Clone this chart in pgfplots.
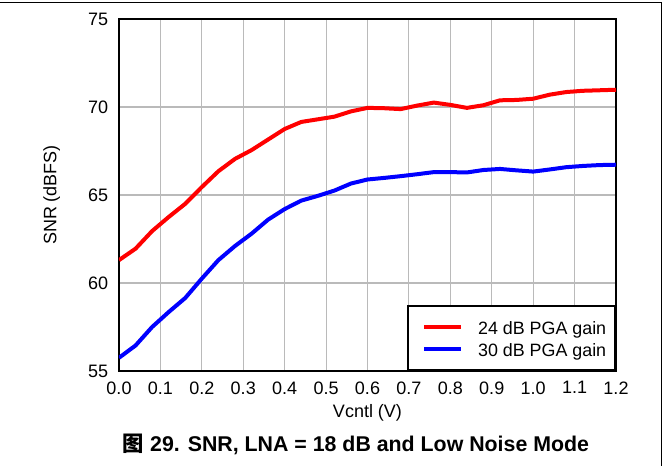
\documentclass[border=0pt]{standalone}
\usepackage{fontspec}
\setmainfont{Liberation Sans}
\newfontfamily\cjk{Noto Sans CJK SC}
\usepackage{pgfplots}
\pgfplotsset{compat=1.18}
\begin{document}
\begin{tikzpicture}
\begin{axis}[
  at={(89.25pt,71.25pt)}, anchor=south west,
  scale only axis, width=372.75pt, height=264pt,
  xmin=0, xmax=1.2, ymin=55, ymax=75,
  xtick={0,0.1,0.2,0.3,0.4,0.5,0.6,0.7,0.8,0.9,1.0,1.1,1.2},
  xticklabels={0.0,0.1,0.2,0.3,0.4,0.5,0.6,0.7,0.8,0.9,1.0,1.1,1.2},
  ytick={55,60,65,70,75},
  yticklabels={55,60,65,70,75},
  major tick length=0pt,
  grid=major,
  major grid style={line width=0.8pt, color=black!27},
  axis line style={black, line width=2pt},
  /pgf/number format/assume math mode=true,
  ticklabel style={font=\fontsize{13.5}{16}\selectfont},
  xticklabel style={inner sep=0pt, anchor=north, yshift=-7.7pt},
  yticklabel style={inner sep=0pt, anchor=east, xshift=-8pt},
  xlabel={Vcntl (V)},
  ylabel={SNR (dBFS)},
  label style={font=\fontsize{13.5}{16}\selectfont},
  xlabel style={at={(axis description cs:0.5,-0.1335)}, anchor=base, inner sep=0pt},
  ylabel style={at={(axis description cs:-0.1258,0.5)}, anchor=base, inner sep=0pt},
  legend cell align=left,
  legend style={at={(1,0)}, anchor=south east, draw=black, line width=1.5pt, fill=white,
    inner xsep=6.6pt, inner ysep=8.8pt, row sep=3.1pt,
    font=\fontsize{13.4}{16}\selectfont,
    nodes={inner sep=0pt, text height=12.4pt, text depth=1.3pt},
    /tikz/every odd column/.style={column sep=11pt}},
  legend image code/.code={\path (0pt,0pt); \draw[#1, line width=3pt] (4pt,0pt) -- (31.75pt,0pt);},
]
\addplot[red, line width=3pt, line join=round] coordinates {
(0,61.3) (0.04,61.95) (0.08,62.95) (0.12,63.75) (0.16,64.5) (0.20,65.45)
(0.24,66.35) (0.28,67.05) (0.32,67.55) (0.36,68.15) (0.40,68.75) (0.44,69.15)
(0.48,69.3) (0.52,69.45) (0.56,69.75) (0.60,69.95) (0.64,69.93) (0.68,69.88)
(0.72,70.08) (0.76,70.25) (0.80,70.12) (0.84,69.95) (0.88,70.1) (0.92,70.38)
(0.96,70.4) (1.00,70.47) (1.04,70.7) (1.08,70.85) (1.12,70.92) (1.16,70.95) (1.20,70.98)
};
\addlegendentry{24 dB PGA gain}
\addplot[blue, line width=3pt, line join=round] coordinates {
(0,55.75) (0.04,56.45) (0.08,57.5) (0.12,58.35) (0.16,59.15) (0.20,60.25)
(0.24,61.3) (0.28,62.1) (0.32,62.8) (0.36,63.6) (0.40,64.2) (0.44,64.68)
(0.48,64.95) (0.52,65.25) (0.56,65.65) (0.60,65.88) (0.64,65.97) (0.68,66.07)
(0.72,66.18) (0.76,66.3) (0.80,66.3) (0.84,66.28) (0.88,66.42) (0.92,66.48)
(0.96,66.4) (1.00,66.33) (1.04,66.45) (1.08,66.58) (1.12,66.65) (1.16,66.7) (1.20,66.72)
};
\addlegendentry{30 dB PGA gain}
\end{axis}
\node[anchor=base, inner sep=0pt, font=\fontsize{16}{19}\selectfont\bfseries] at (267pt,10.5pt) {{\cjk\bfseries 图} 29. SNR, LNA = 18 dB and Low Noise Mode};
\draw[line width=0.75pt] (0pt,347.6pt) -- (495.75pt,347.6pt) -- (495.75pt,0pt);
\pgfresetboundingbox
\path[use as bounding box] (0pt,0pt) rectangle (501.75pt,349.5pt);
\end{tikzpicture}
\end{document}
